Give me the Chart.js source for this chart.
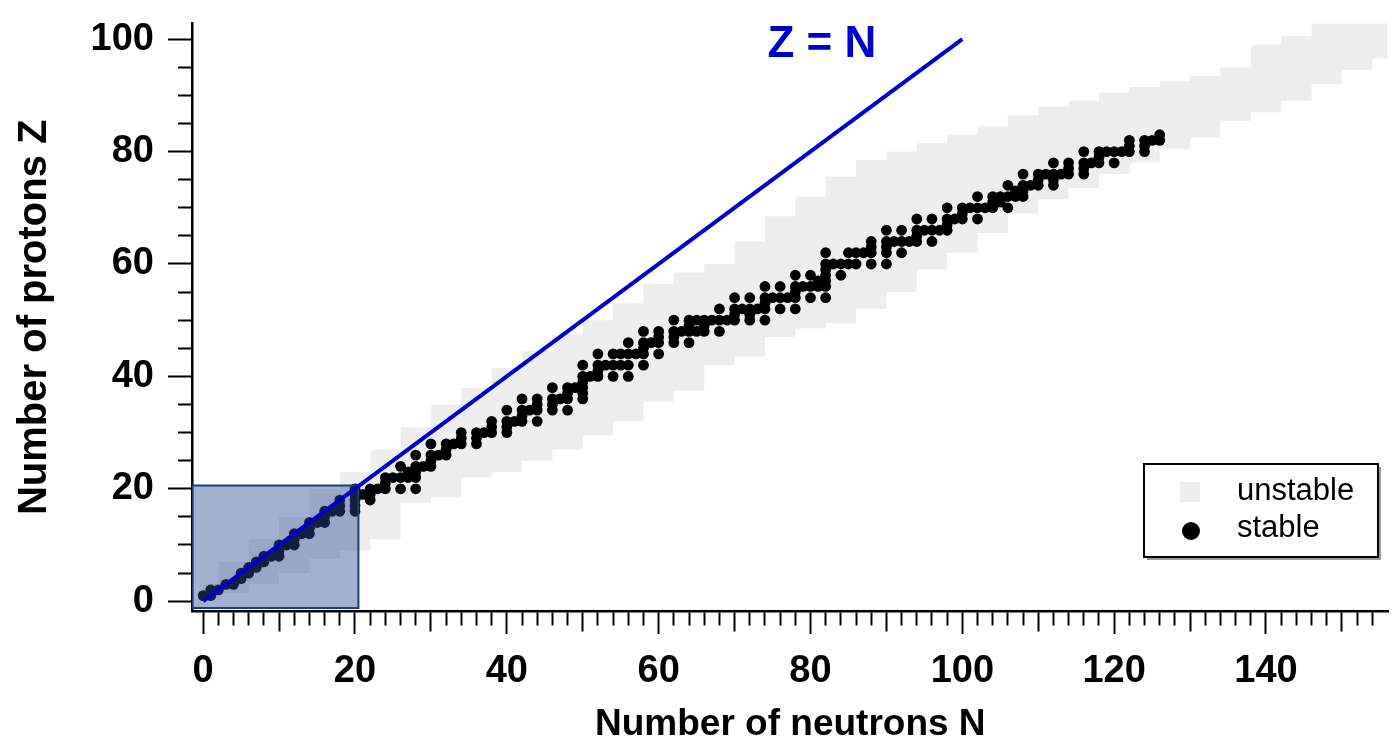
<!DOCTYPE html>
<html lang="en">
<head>
  <meta charset="UTF-8" />
  <title>Stable and unstable nuclides</title>
  <script src="https://cdn.jsdelivr.net/npm/chart.js"></script>
  <style>
    body { margin: 0; background: #fff; }
    .wrap { position: relative; width: 1394px; height: 744px; }
  </style>
</head>
<body>
  <div class="wrap"><canvas id="chart"></canvas></div>

  <script>
    // stable nuclides: mass numbers A of each element, index = Z - 1
    const stableMass = [
      [1, 2], [3, 4], [6, 7], [9], [10, 11], [12, 13], [14, 15], [16, 17, 18], [19], [20, 21, 22],
      [23], [24, 25, 26], [27], [28, 29, 30], [31], [32, 33, 34, 36], [35, 37], [36, 38, 40], [39, 40, 41],
      [40, 42, 43, 44, 46, 48], [45], [46, 47, 48, 49, 50], [50, 51], [50, 52, 53, 54], [55], [54, 56, 57, 58],
      [59], [58, 60, 61, 62, 64], [63, 65], [64, 66, 67, 68, 70], [69, 71], [70, 72, 73, 74, 76], [75],
      [74, 76, 77, 78, 80, 82], [79, 81], [78, 80, 82, 83, 84, 86], [85, 87], [84, 86, 87, 88], [89],
      [90, 91, 92, 94, 96], [93], [92, 94, 95, 96, 97, 98, 100], [], [96, 98, 99, 100, 101, 102, 104], [103],
      [102, 104, 105, 106, 108, 110], [107, 109], [106, 108, 110, 111, 112, 113, 114, 116], [113, 115],
      [112, 114, 115, 116, 117, 118, 119, 120, 122, 124], [121, 123], [120, 122, 123, 124, 125, 126, 128, 130],
      [127], [124, 126, 128, 129, 130, 131, 132, 134, 136], [133], [130, 132, 134, 135, 136, 137, 138],
      [138, 139], [136, 138, 140, 142], [141], [142, 143, 144, 145, 146, 148, 150], [],
      [144, 147, 148, 149, 150, 152, 154], [151, 153], [152, 154, 155, 156, 157, 158, 160], [159],
      [156, 158, 160, 161, 162, 163, 164], [165], [162, 164, 166, 167, 168, 170], [169],
      [168, 170, 171, 172, 173, 174, 176], [175, 176], [174, 176, 177, 178, 179, 180], [180, 181],
      [180, 182, 183, 184, 186], [185, 187], [184, 186, 187, 188, 189, 190, 192], [191, 193],
      [190, 192, 194, 195, 196, 198], [197], [196, 198, 199, 200, 201, 202, 204], [203, 205],
      [204, 206, 207, 208], [209]
    ];

    // grey band of known unstable nuclides (upper and lower Z edge per N)
    const bandN      = [0, 4, 8, 12, 16, 20, 24, 28, 32, 36, 40, 44, 48, 52, 56, 60, 64, 68, 72, 76,
                        80, 84, 88, 92, 96, 100, 104, 108, 112, 116, 120, 124, 128, 132, 136, 140, 144, 148, 152, 156];
    const bandTop    = [3, 7, 11, 15, 20, 23, 27, 31, 35, 38, 41.5, 44.5, 47.5, 50, 53, 56.5, 58.5, 60, 64, 68.5,
                        72, 75.5, 78.5, 80, 81.5, 83, 84.5, 86.5, 88, 89, 90.5, 91.5, 92.5, 93.5, 95, 99, 100.5, 103, 104, 104];
    const bandBottom = [0.5, 1.5, 3, 5, 7.5, 9, 11, 17.5, 18.5, 22, 23, 25, 27, 29.5, 32, 35.5, 37.5, 42, 43.5, 47,
                        48.5, 49.5, 52, 55, 59, 62, 65.5, 69, 71.5, 73.5, 76, 78, 80.5, 82.5, 85.5, 87, 89, 92, 94.5, 96.5];

    // Z = N reference line
    const diagN = [0, 100];
    const diagZ = [0, 100];

    // highlighted light-nuclide region
    const boxN = [-1.47, 20.45];
    const boxZ = [-1.2, 20.6];

    const xTicks = Array.from({ length: 78 }, (_, i) => i * 2);
    const xLabels = [0, 20, 40, 60, 80, 100, 120, 140];
    const yTicks = Array.from({ length: 21 }, (_, i) => i * 5);
    const yLabels = [0, 20, 40, 60, 80, 100];

    const FONT = '"Liberation Sans", Arial, sans-serif';

    const stablePoints = [];
    stableMass.forEach((list, i) => list.forEach(a => stablePoints.push({ x: a - (i + 1), y: i + 1 })));

    const bandShape = bandN.map((n, i) => ({ x: n, y: bandTop[i] }))
      .concat(bandN.map((n, i) => ({ x: n, y: bandBottom[i] })).reverse());

    const boxShape = [
      { x: boxN[0], y: boxZ[0] }, { x: boxN[1], y: boxZ[0] },
      { x: boxN[1], y: boxZ[1] }, { x: boxN[0], y: boxZ[1] }, { x: boxN[0], y: boxZ[0] }
    ];

    const overlay = {
      id: 'overlay',
      afterDraw(chart) {
        const { ctx, scales: { x, y } } = chart;
        ctx.save();

        ctx.fillStyle = '#0000cc';
        ctx.font = 'bold 44px ' + FONT;
        ctx.textAlign = 'center';
        ctx.textBaseline = 'middle';
        ctx.fillText('Z = N', x.getPixelForValue(81.5), y.getPixelForValue(99));

        // legend
        ctx.fillStyle = '#9a9a9a';
        ctx.fillRect(1147, 467, 234, 93);
        ctx.fillStyle = '#fff';
        ctx.fillRect(1144, 464, 234, 93);
        ctx.strokeStyle = '#000';
        ctx.lineWidth = 2;
        ctx.strokeRect(1144, 464, 234, 93);

        ctx.fillStyle = '#eeeeee';
        ctx.fillRect(1180, 482, 20, 20);
        ctx.fillStyle = '#000';
        ctx.beginPath();
        ctx.arc(1191, 531, 9, 0, Math.PI * 2);
        ctx.fill();

        ctx.font = '31px ' + FONT;
        ctx.textAlign = 'left';
        ctx.fillText('unstable', 1237, 491);
        ctx.fillText('stable', 1237, 528);
        ctx.restore();
      }
    };

    new Chart(document.getElementById('chart'), {
      type: 'scatter',
      data: {
        datasets: [
          {
            label: 'Z = N',
            data: diagN.map((n, i) => ({ x: n, y: diagZ[i] })),
            showLine: true,
            borderColor: '#0000cc',
            borderWidth: 4,
            pointRadius: 0
          },
          {
            label: 'region',
            data: boxShape,
            showLine: true,
            fill: 'shape',
            backgroundColor: 'rgba(40,75,145,0.43)',
            borderColor: '#1d3c7a',
            borderWidth: 2,
            pointRadius: 0
          },
          {
            label: 'stable',
            data: stablePoints,
            backgroundColor: '#000',
            borderWidth: 0,
            pointRadius: 5.4
          },
          {
            label: 'unstable',
            data: bandShape,
            showLine: true,
            stepped: 'middle',
            fill: 'shape',
            backgroundColor: '#eeeeee',
            borderColor: 'rgba(0,0,0,0)',
            borderWidth: 1,
            pointRadius: 0
          }
        ]
      },
      options: {
        responsive: true,
        maintainAspectRatio: false,
        animation: false,
        layout: { padding: { top: 12, right: 0, bottom: 0, left: 0 } },
        plugins: {
          legend: { display: false },
          tooltip: { enabled: false }
        },
        scales: {
          x: {
            type: 'linear',
            min: -1.47,
            max: 156.15,
            afterBuildTicks: axis => { axis.ticks = xTicks.map(v => ({ value: v })); },
            afterFit: axis => { axis.height = 133; },
            border: { display: true, color: '#000', width: 2.5 },
            grid: {
              display: true,
              drawOnChartArea: false,
              drawTicks: true,
              tickLength: 23,
              tickWidth: 2,
              tickColor: '#000',
              tickBorderDash: ctx => {
                const v = ctx.tick.value;
                if (v % 20 === 0) return [];
                if (v % 10 === 0) return [19, 20];
                return [13, 20];
              }
            },
            ticks: {
              autoSkip: false,
              maxRotation: 0,
              padding: 15,
              color: '#000',
              font: { family: FONT, size: 38, weight: 'bold' },
              callback: v => (xLabels.includes(v) ? String(v) : '')
            },
            title: {
              display: true,
              text: 'Number of neutrons N',
              color: '#000',
              font: { family: FONT, size: 37, weight: 'bold', lineHeight: 1 },
              padding: { top: 0, bottom: 1 }
            }
          },
          y: {
            type: 'linear',
            min: -1.745,
            max: 102.79,
            afterBuildTicks: axis => { axis.ticks = yTicks.map(v => ({ value: v })); },
            afterFit: axis => { axis.width = 192; },
            border: { display: true, color: '#000', width: 2.5 },
            grid: {
              display: true,
              drawOnChartArea: false,
              drawTicks: true,
              tickLength: 24,
              tickWidth: 2,
              tickColor: '#000',
              tickBorderDash: ctx => (ctx.tick.value % 20 === 0 ? [] : [0, 10, 14, 0])
            },
            ticks: {
              autoSkip: false,
              padding: 14,
              color: '#000',
              font: { family: FONT, size: 38, weight: 'bold', lineHeight: 0.5 },
              callback: v => (yLabels.includes(v) ? String(v) : '')
            },
            title: {
              display: true,
              text: 'Number of protons Z',
              color: '#000',
              font: { family: FONT, size: 40, weight: 'bold', lineHeight: 1 },
              padding: { top: 15, bottom: 0 }
            }
          }
        }
      },
      plugins: [overlay]
    });
  </script>
</body>
</html>
